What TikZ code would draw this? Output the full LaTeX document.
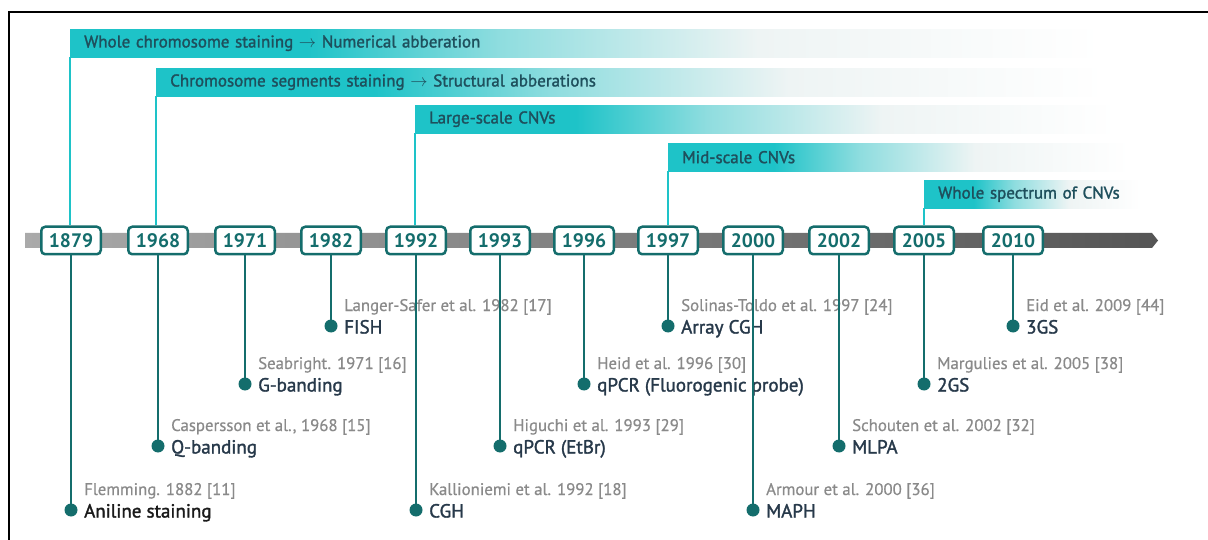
\documentclass[tikz,border=0pt]{standalone}
\usepackage{fontspec}
\setmainfont{PT Sans}
\newfontfamily\medfont{PT Sans}[FakeBold=1.6]
\newfontfamily\reffont{PT Sans}[FakeBold=0.6]
\definecolor{bandteal}{HTML}{1EC3C8}
\definecolor{bandmid}{HTML}{8FDDDF}
\definecolor{bandlight}{HTML}{EEF4F4}
\definecolor{bandtext}{HTML}{1E4F5C}
\definecolor{yearteal}{HTML}{146D6C}
\definecolor{refgray}{HTML}{8A8A8A}
\definecolor{labelink}{HTML}{27394A}
\definecolor{railleft}{HTML}{AAAAAA}
\definecolor{railright}{HTML}{555555}
\pgfdeclarehorizontalshading{bandfade}{100bp}{color(0bp)=(bandteal); color(25bp)=(bandteal); color(36bp)=(bandteal); color(45bp)=(bandmid); color(57bp)=(bandlight); color(73bp)=(white); color(100bp)=(white)}
\tikzset{
  bandbox/.style={anchor=north west, shading=bandfade, minimum height=28pt,
    inner xsep=14pt, inner ysep=0pt, align=left, text=bandtext,
    font=\medfont\fontsize{17}{18}\selectfont},
  bandline/.style={draw=bandteal, line width=2.5pt},
  yearbox/.style={draw=yearteal, line width=2.5pt, rounded corners=4pt, fill=white,
    minimum width=59.5pt, minimum height=27.5pt, inner sep=0pt, text=yearteal,
    font=\bfseries\fontsize{19.5}{20}\selectfont},
  evdot/.style={circle, fill=yearteal, minimum size=13pt, inner sep=0pt},
  stem/.style={draw=yearteal, line width=2pt},
  refnote/.style={anchor=base west, inner sep=0pt, text=refgray,
    font=\reffont\fontsize{16.8}{18}\selectfont},
  evlabel/.style={anchor=base west, inner sep=0pt, text=labelink,
    font=\medfont\fontsize{19}{20}\selectfont},
}
\begin{document}
\begin{tikzpicture}[x=1pt, y=-1pt]
\useasboundingbox (0,0) rectangle (1208,540);
\fill[white] (0,0) rectangle (1208,540);
% frame
\draw[line width=2.5pt] (9,540) -- (9,12) -- (1208,12);

% period bands
\node[bandbox, text width=1047pt] (band1) at (70,29)
  {Whole chromosome staining $\rightarrow$ Numerical abberation};
\node[bandbox, text width=961pt] (band2) at (156,68)
  {Chromosome segments staining $\rightarrow$ Structural abberations};
\node[bandbox, text width=702pt] (band3) at (415,105) {Large-scale CNVs};
\node[bandbox, text width=452pt] (band4) at (668,143) {Mid-scale CNVs};
\node[bandbox, text width=198pt] (band5) at (924,180) {Whole spectrum of CNVs};

% time axis
\shade[left color=railleft, right color=railright]
  (25,233) -- (1152,233) -- (1158,240.5) -- (1152,248) -- (25,248) -- cycle;

% events: year / x / dot y / reference / method
\foreach \yr/\x/\dy/\rf/\lb in {
  1879/71/510/{Flemming. 1882 [11]}/{\color[HTML]{1A1A1A}Aniline staining},
  1968/158/446/{Caspersson et al., 1968 [15]}/{Q-banding},
  1971/245/384/{Seabright. 1971 [16]}/{G-banding},
  1982/331/326/{Langer-Safer et al. 1982 [17]}/{FISH},
  1992/416/510/{Kallioniemi et al. 1992 [18]}/{CGH},
  1993/500/446/{Higuchi et al. 1993 [29]}/{qPCR (EtBr)},
  1996/584/384/{Heid et al. 1996 [30]}/{qPCR (Fluorogenic probe)},
  1997/668/326/{Solinas-Toldo et al. 1997 [24]}/{Array CGH},
  2000/753/510/{Armour et al. 2000 [36]}/{MAPH},
  2002/839/446/{Schouten et al. 2002 [32]}/{MLPA},
  2005/924/384/{Margulies et al. 2005 [38]}/{2GS},
  2010/1013/326/{Eid et al. 2009 [44]}/{3GS}} {
  \node[refnote] (r\yr) at (\x+13,\dy-15) {\rf};
  \node[evlabel] (l\yr) at (\x+13,\dy+7.5) {\lb};
  \node[yearbox] (y\yr) at (\x,240.5) {\yr};
  \draw[stem] (y\yr.south) -- (\x,\dy);
  \node[evdot] (d\yr) at (\x,\dy) {};
}

% band leaders down to their starting years
\draw[bandline] (band1.south west) -- (band1.south west |- y1879.north);
\draw[bandline] (band2.south west) -- (band2.south west |- y1968.north);
\draw[bandline] (band3.south west) -- (band3.south west |- y1992.north);
\draw[bandline] (band4.south west) -- (band4.south west |- y1997.north);
\draw[bandline] (band5.south west) -- (band5.south west |- y2005.north);
\end{tikzpicture}
\end{document}
